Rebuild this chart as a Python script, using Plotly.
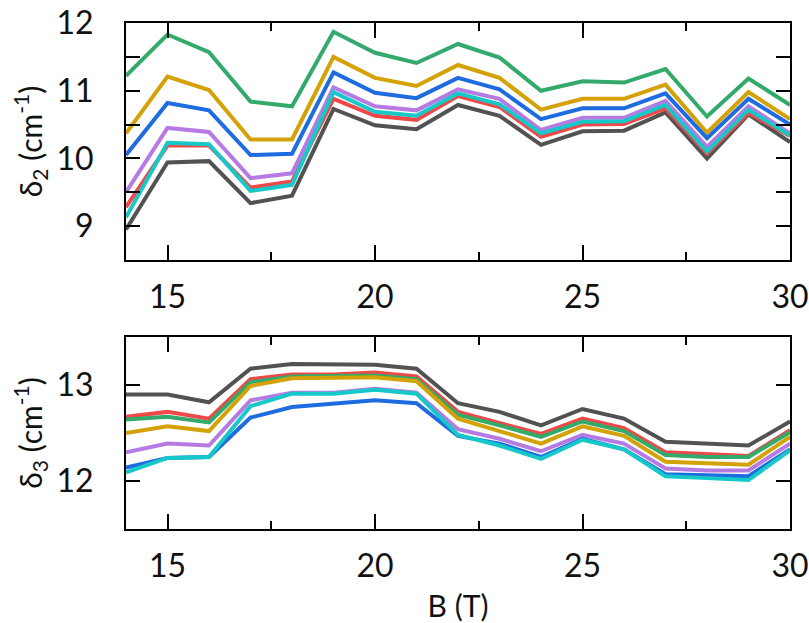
import plotly.graph_objects as go

B = [14, 15, 16, 17, 18, 19, 20, 21, 22, 23, 24, 25, 26, 27, 28, 29, 30]

# delta_2 (top panel)
d2_gray   = [8.95, 9.94, 9.96, 9.34, 9.45, 10.73, 10.49, 10.43, 10.79, 10.63, 10.20, 10.40, 10.41, 10.68, 10.00, 10.65, 10.24]
d2_red    = [9.28, 10.19, 10.19, 9.57, 9.66, 10.88, 10.63, 10.57, 10.92, 10.76, 10.32, 10.50, 10.51, 10.74, 10.07, 10.67, 10.33]
d2_cyan   = [9.13, 10.23, 10.21, 9.52, 9.61, 10.98, 10.69, 10.63, 10.96, 10.80, 10.37, 10.54, 10.55, 10.79, 10.10, 10.72, 10.34]
d2_purple = [9.50, 10.45, 10.39, 9.71, 9.78, 11.05, 10.77, 10.71, 11.02, 10.88, 10.42, 10.60, 10.60, 10.85, 10.17, 10.77, 10.37]
d2_blue   = [10.05, 10.82, 10.71, 10.05, 10.07, 11.27, 10.97, 10.89, 11.19, 11.02, 10.58, 10.74, 10.74, 10.96, 10.30, 10.88, 10.50]
d2_gold   = [10.37, 11.21, 11.01, 10.28, 10.28, 11.50, 11.19, 11.07, 11.38, 11.19, 10.72, 10.88, 10.88, 11.09, 10.38, 10.98, 10.58]
d2_green  = [11.22, 11.83, 11.57, 10.84, 10.77, 11.87, 11.56, 11.41, 11.69, 11.49, 11.00, 11.14, 11.12, 11.32, 10.62, 11.18, 10.79]

# delta_3 (bottom panel)
d3_gray   = [12.90, 12.90, 12.82, 13.17, 13.22, 13.21, 13.21, 13.17, 12.81, 12.72, 12.58, 12.75, 12.65, 12.41, 12.39, 12.37, 12.62]
d3_red    = [12.67, 12.72, 12.65, 13.06, 13.11, 13.11, 13.13, 13.09, 12.72, 12.60, 12.49, 12.65, 12.55, 12.30, 12.28, 12.26, 12.53]
d3_green  = [12.64, 12.67, 12.61, 13.03, 13.09, 13.09, 13.10, 13.06, 12.69, 12.58, 12.46, 12.62, 12.52, 12.27, 12.25, 12.25, 12.51]
d3_gold   = [12.50, 12.57, 12.52, 12.99, 13.07, 13.07, 13.08, 13.04, 12.65, 12.52, 12.39, 12.57, 12.47, 12.20, 12.18, 12.17, 12.46]
d3_purple = [12.30, 12.39, 12.37, 12.84, 12.92, 12.92, 12.96, 12.92, 12.54, 12.44, 12.31, 12.48, 12.39, 12.13, 12.11, 12.11, 12.39]
d3_blue   = [12.14, 12.24, 12.25, 12.66, 12.77, 12.80, 12.84, 12.81, 12.47, 12.39, 12.25, 12.44, 12.33, 12.07, 12.06, 12.05, 12.33]
d3_cyan   = [12.09, 12.24, 12.25, 12.78, 12.91, 12.91, 12.95, 12.91, 12.48, 12.37, 12.23, 12.43, 12.33, 12.05, 12.03, 12.01, 12.32]

colors = {
    "gray": "#525252", "red": "#f04848", "green": "#33a96c", "gold": "#d4a106",
    "purple": "#b57be3", "blue": "#1f6be0", "cyan": "#16c8c8",
}

top = [("gray", d2_gray), ("red", d2_red), ("green", d2_green), ("gold", d2_gold),
       ("blue", d2_blue), ("purple", d2_purple), ("cyan", d2_cyan)]
bot = [("gray", d3_gray), ("red", d3_red), ("green", d3_green), ("gold", d3_gold),
       ("purple", d3_purple), ("blue", d3_blue), ("cyan", d3_cyan)]

fig = go.Figure()
for name, ys in top:
    fig.add_trace(go.Scatter(x=B, y=ys, mode="lines", line=dict(color=colors[name], width=4),
                             xaxis="x", yaxis="y", showlegend=False))
for name, ys in bot:
    fig.add_trace(go.Scatter(x=B, y=ys, mode="lines", line=dict(color=colors[name], width=4),
                             xaxis="x2", yaxis="y2", showlegend=False))

font = dict(family="Lato, Open Sans, sans-serif", size=32, color="#111111")
tfont = dict(family="Lato, Open Sans, sans-serif", size=30, color="#111111")

xcommon = dict(range=[14, 30], tickvals=[15, 20, 25, 30], ticks="inside", ticklen=15, tickwidth=2,
               tickcolor="black", showline=True, linecolor="black", linewidth=2, mirror="ticks",
               showgrid=False, zeroline=False, tickfont=font, automargin=False, ticklabelstandoff=8,
               minor=dict(tickvals=[17.5, 22.5, 27.5], ticks="inside", ticklen=8, tickwidth=2,
                          tickcolor="black", showgrid=False))
ycommon = dict(ticks="inside", ticklen=14, tickwidth=2, tickcolor="black", showline=True,
               linecolor="black", linewidth=2, mirror="ticks", showgrid=False, zeroline=False,
               tickfont=font, automargin=False, ticklabelstandoff=24)

fig.update_layout(
    width=809, height=623,
    margin=dict(l=126, r=19, t=23, b=94),
    paper_bgcolor="white", plot_bgcolor="white",
    font=font,
    xaxis=dict(**xcommon, domain=[0, 1], anchor="y"),
    yaxis=dict(**ycommon, domain=[0.5316, 1], range=[8.5, 12], tickvals=[9, 10, 11, 12],
               minor=dict(tickvals=[8.5, 9.5, 10.5, 11.5], ticks="inside", ticklen=14, tickwidth=2,
                          tickcolor="black", showgrid=False),
               title=dict(text="δ<sub>2</sub> (cm<sup>-1</sup>)", font=tfont, standoff=5), anchor="x"),
    xaxis2=dict(**xcommon, domain=[0, 1], anchor="y2",
                title=dict(text="B (T)", font=tfont, standoff=13)),
    yaxis2=dict(**ycommon, domain=[0, 0.3794], range=[11.5, 13.5], tickvals=[12, 13],
                title=dict(text="δ<sub>3</sub> (cm<sup>-1</sup>)", font=tfont, standoff=5), anchor="x2"),
)

fig.write_html("out.html", config={"displayModeBar": False},
               post_script="document.body.style.margin='0';")
